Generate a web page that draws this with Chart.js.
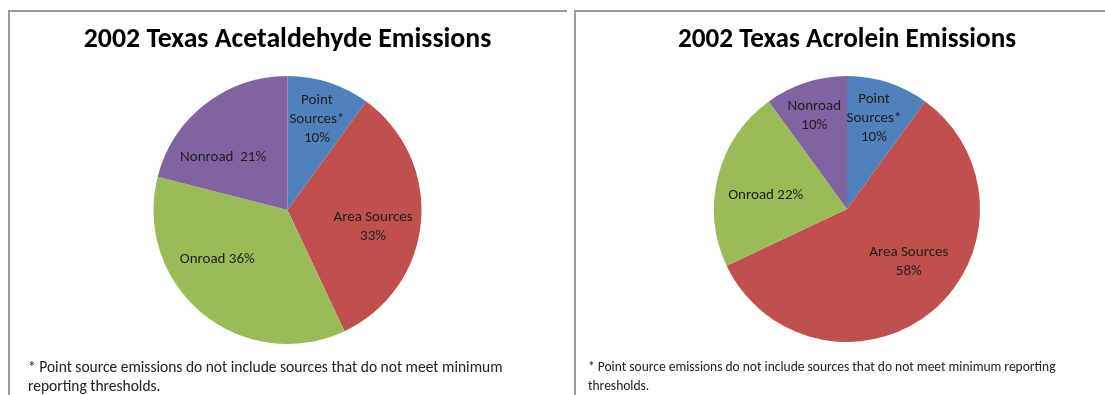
<!DOCTYPE html>
<html>
<head>
<meta charset="utf-8">
<script src="https://cdn.jsdelivr.net/npm/chart.js@4.4.1/dist/chart.umd.min.js"></script>
<style>
  html, body { margin: 0; padding: 0; background: #fff; overflow: hidden; width: 1105px; height: 395px; }
  .panel { position: absolute; top: 10px; border-top: 2px solid #999; border-left: 2px solid #999; }
  #leftPanel { left: 8px; width: 557px; height: 400px; }
  #rightPanel { left: 574px; width: 560px; height: 400px; }
  .box { position: absolute; top: 0; left: 0; height: 390px; }
</style>
</head>
<body>

<div class="panel" id="leftPanel"><div class="box" style="width:555px"><canvas id="acetaldehyde"></canvas></div></div>
<div class="panel" id="rightPanel"><div class="box" style="width:542px"><canvas id="acrolein"></canvas></div></div>

<script>
// source categories, same order in both pies (clockwise from 12 o'clock)
var categories = ["Point Sources*", "Area Sources", "Onroad", "Nonroad"];
var sliceColors = ["#4F81BD", "#C0504D", "#9BBB59", "#8064A2"];

// percent of 2002 emissions
var acetaldehydeShare = [10, 33, 36, 21];
var acroleinShare = [10, 58, 22, 10];

// data label text, {v} gets the value
var acetaldehydeLabelText = ["Point\nSources*\n{v}%", "Area Sources\n{v}%", "Onroad {v}%", "Nonroad  {v}%"];
var acroleinLabelText = ["Point\nSources*\n{v}%", "Area Sources\n{v}%", "Onroad {v}%", "Nonroad\n{v}%"];

var footnote = ["* Point source emissions do not include sources that do not meet minimum", "reporting thresholds."];
var footnoteRight = ["* Point source emissions do not include sources that do not meet minimum reporting", "thresholds."];

var fontFamily = "Calibri, Carlito, Lato, sans-serif";

// draws the text inside each slice, placed from the arc itself
var sliceLabels = {
  id: 'sliceLabels',
  afterDatasetsDraw: function(chart, args, opts) {
    var ctx = chart.ctx;
    var meta = chart.getDatasetMeta(0);
    var values = chart.data.datasets[0].data;
    ctx.save();
    ctx.font = opts.size + "px " + fontFamily;
    ctx.fillStyle = "#1e1e1e";
    ctx.textAlign = "center";
    ctx.textBaseline = "middle";
    meta.data.forEach(function(arc, i) {
      var p = arc.getProps(['x', 'y', 'startAngle', 'endAngle', 'outerRadius'], true);
      var place = opts.place[i];
      var mid = (p.startAngle + p.endAngle) / 2 + place[0] * Math.PI / 180;
      var cx = p.x + Math.cos(mid) * p.outerRadius * place[1];
      var cy = p.y + Math.sin(mid) * p.outerRadius * place[1];
      var lines = opts.text[i].replace("{v}", values[i]).split("\n");
      var lh = 19;
      var y0 = cy - (lines.length - 1) * lh / 2;
      lines.forEach(function(line, k) {
        ctx.fillText(line, cx, y0 + k * lh);
      });
    });
    ctx.restore();
  }
};

function drawPie(id, titleText, titleSize, values, labelText, place, notes, noteSize, sidePad, noteTop) {
  var ctx = document.getElementById(id).getContext('2d');
  var titleLine = titleSize * 1.2;
  var config = {
    type: 'pie',
    data: {
      labels: categories,
      datasets: [{
        data: values,
        backgroundColor: sliceColors,
        borderWidth: 0
      }]
    },
    options: {
      responsive: true,
      maintainAspectRatio: false,
      animation: false,
      layout: { padding: { left: sidePad, right: sidePad, top: 0, bottom: 0 } },
      plugins: {
        legend: { display: false },
        tooltip: { enabled: false },
        title: {
          display: true,
          text: titleText,
          color: "#000",
          font: { family: fontFamily, size: titleSize, weight: 'bold' },
          // title centred at y=28, pie top at y=64
          padding: { top: 28 - titleLine / 2, bottom: 64 - 28 - titleLine / 2 }
        },
        subtitle: {
          display: true,
          position: 'bottom',
          align: 'start',
          text: notes,
          color: "#222",
          font: { family: fontFamily, size: noteSize, lineHeight: 19 / noteSize },
          padding: { top: noteTop, bottom: 5.5 }
        },
        sliceLabels: { text: labelText, place: place, size: 15 }
      }
    },
    plugins: [sliceLabels]
  };
  window[id + 'Chart'] = new Chart(ctx, config);
}

document.addEventListener('DOMContentLoaded', function() {
  // [angle shift in degrees, fraction of radius]
  drawPie('acetaldehyde', "2002 Texas Acetaldehyde Emissions", 27.8, acetaldehydeShare, acetaldehydeLabelText,
    [[0, 0.71], [5.5, 0.65], [15.4, 0.64], [-13, 0.62]], footnote, 15.5, 18, 14.5);
  drawPie('acrolein', "2002 Texas Acrolein Emissions", 27.2, acroleinShare, acroleinLabelText,
    [[-1.4, 0.71], [-10, 0.61], [-4.7, 0.62], [-1.4, 0.74]], footnoteRight, 13.5, 12, 16.5);
});
</script>
</body>
</html>
